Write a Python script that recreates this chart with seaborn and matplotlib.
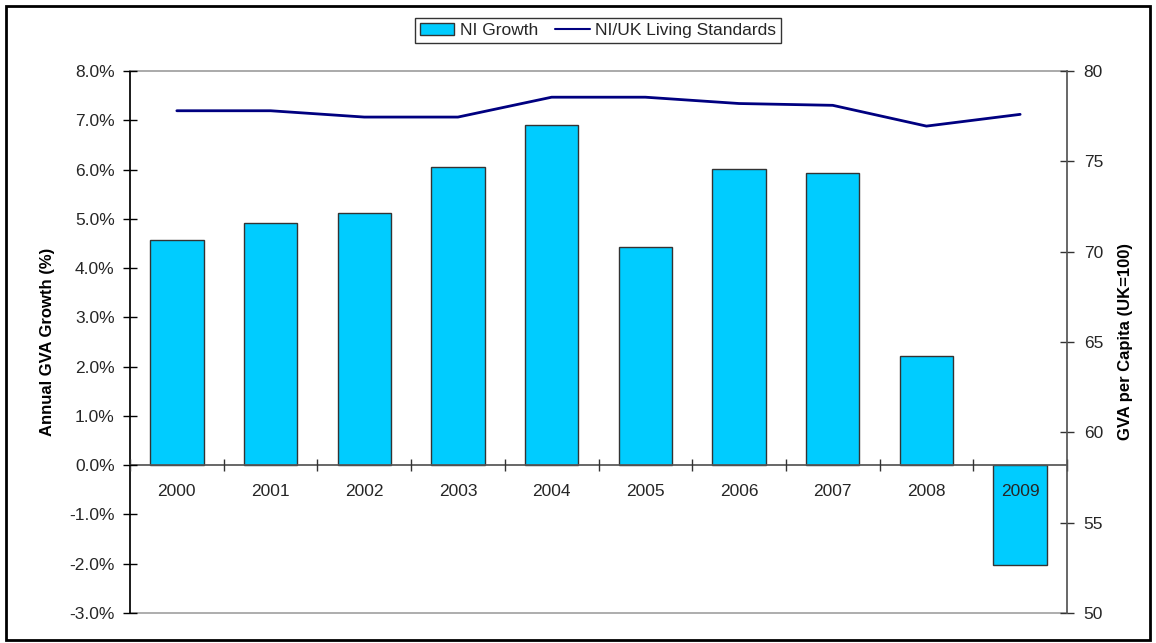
import matplotlib
matplotlib.use("Agg")
import matplotlib.pyplot as plt
import seaborn as sns
import numpy as np
import pandas as pd
from matplotlib.patches import Patch, Rectangle
from matplotlib.lines import Line2D
from matplotlib.ticker import FuncFormatter, FixedLocator

years = ["2000", "2001", "2002", "2003", "2004", "2005", "2006", "2007", "2008", "2009"]
ni_growth = [4.57, 4.92, 5.12, 6.05, 6.90, 4.43, 6.01, 5.93, 2.22, -2.02]
living_standards = [77.8, 77.8, 77.45, 77.45, 78.55, 78.55, 78.2, 78.1, 76.95, 77.6]

sns.set_theme(style="white")
plt.rcParams['font.family'] = ['Liberation Sans', 'DejaVu Sans']

df = pd.DataFrame({"year": years, "growth": ni_growth, "ls": living_standards,
                   "pos": np.arange(len(years))})

TXT = "#262626"
fig = plt.figure(figsize=(11.56, 6.43), dpi=100)
ax = fig.add_axes([130/1156, 1-613/643, (1067-130)/1156, (613-71)/643])

bar_color = "#00CCFF"
line_color = "#000080"

sns.barplot(data=df, x="year", y="growth", ax=ax, color=bar_color, width=0.57,
            edgecolor="#333333", linewidth=1.0, saturation=1)
for p in ax.patches:
    p.set_zorder(1)
ax.set_axisbelow(False)
ax.set_ylim(-3, 8)
ax.set_xlim(-0.5, len(years) - 0.5)
ax.yaxis.set_major_locator(FixedLocator(np.arange(-3, 9, 1)))
ax.yaxis.set_major_formatter(FuncFormatter(lambda v, p: f"{v:.1f}%"))
ax.tick_params(axis="y", direction="inout", length=10, width=1, color="black",
               labelsize=12.5, labelcolor=TXT, pad=6, left=True)

# x-axis at 0 with ticks between categories
ax.spines["bottom"].set_position(("data", 0))
ax.spines["bottom"].set_color("#555555")
ax.spines["left"].set_color("black")
ax.spines["top"].set_color("#A0A0A0")
ax.spines["right"].set_visible(False)
ax.axhline(-3, color="#A0A0A0", lw=1.2, zorder=0.5, clip_on=False)
ax.xaxis.set_major_locator(FixedLocator(np.arange(-0.5, len(years), 1)))
ax.xaxis.set_minor_locator(FixedLocator(np.arange(len(years))))
ax.xaxis.set_major_formatter(FuncFormatter(lambda v, p: ""))
ax.xaxis.set_minor_formatter(FuncFormatter(lambda v, p: years[int(round(v))]))
ax.tick_params(axis="x", which="major", direction="inout", length=9, width=1,
               color="#333333", bottom=True)
ax.tick_params(axis="x", which="minor", length=0, labelsize=12.5, labelcolor=TXT,
               pad=13.5, bottom=True)
ax.set_xlabel("")
ax.set_ylabel("Annual GVA Growth (%)", fontsize=12, fontweight="bold", color="black",
              labelpad=10)

ax2 = ax.twinx()
sns.lineplot(data=df, x="pos", y="ls", ax=ax2, color=line_color, linewidth=2)
ax2.set_ylim(50, 80)
ax2.set_xlim(-0.5, len(years) - 0.5)
ax2.yaxis.set_major_locator(FixedLocator(np.arange(50, 81, 5)))
ax2.tick_params(axis="y", direction="inout", length=10, width=1, color="#333333",
                labelsize=12.5, labelcolor=TXT, pad=7, right=True)
for s in ["top", "left", "bottom"]:
    ax2.spines[s].set_visible(False)
ax2.spines["right"].set_color("#555555")
ax2.set_xlabel("")
ax2.set_ylabel("GVA per Capita (UK=100)", fontsize=12, fontweight="bold", color="black",
               labelpad=11)

handles = [Patch(facecolor=bar_color, edgecolor="#333333", linewidth=1.0),
           Line2D([0], [0], color=line_color, lw=1.5)]
leg = fig.legend(handles, ["NI Growth", "NI/UK Living Standards"], loc="center",
                 bbox_to_anchor=(598/1156, 1-30.5/643), ncol=2, frameon=True,
                 fancybox=False, fontsize=12.5, handlelength=2.0, handletextpad=0.3,
                 columnspacing=1.0, borderpad=0.3, labelcolor=TXT)
leg.get_frame().set_edgecolor("black")
leg.get_frame().set_linewidth(1.0)

fig.patches.append(Rectangle((6/1156, 3/643), 1144/1156, 634/643, transform=fig.transFigure,
                             fill=False, edgecolor="black", linewidth=2))

fig.savefig("out.png", dpi=100, facecolor="white")
